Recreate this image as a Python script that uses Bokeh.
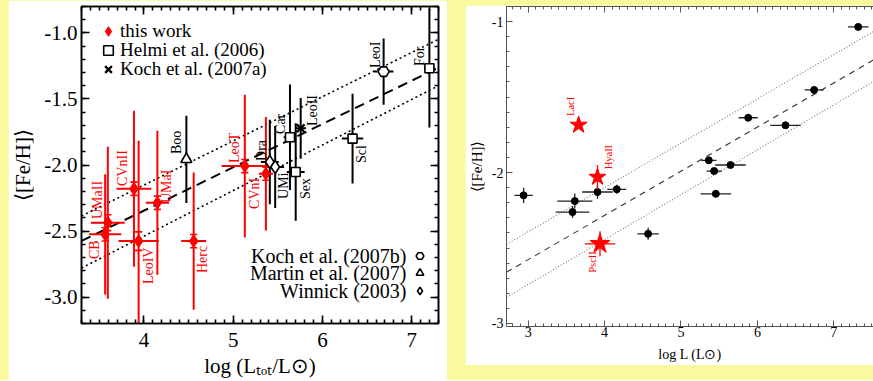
import numpy as np
from bokeh.plotting import figure
from bokeh.models import (ColumnDataSource, Range1d, LinearAxis, FixedTicker,
                          Legend, LegendItem, Label, Spacer)
from bokeh.layouts import row, column
from bokeh.embed import file_html
from bokeh.resources import INLINE
from bokeh.core.properties import value

# ------------------------- DATA: left panel -------------------------
tw_name = ["CB", "UMaII", "CVnII", "LeoIV", "UMaI", "Herc", "LeoT", "CVnI"]
tw_logL = [3.565, 3.595, 3.888, 3.940, 4.150, 4.557, 5.130, 5.366]
tw_feh = [-2.525, -2.437, -2.180, -2.576, -2.286, -2.576, -2.008, -2.066]
tw_xerr = [0.18, 0.19, 0.195, 0.225, 0.13, 0.14, 0.26, 0.08]
tw_yerr = [0.455, 0.575, 0.59, 0.76, 0.545, 0.52, 0.54, 0.43]
tw_yerr_stat = [0.05, 0.06, 0.05, 0.07, 0.05, 0.05, 0.05, 0.05]

lit_name = ["Boo", "Dra", "UMi", "Car", "Sex", "LeoII", "Scl", "LeoI", "For"]
lit_logL = [4.475, 5.41, 5.47, 5.636, 5.70, 5.756, 6.337, 6.685, 7.198]
lit_feh = [-1.957, -1.977, -2.015, -1.79, -2.053, -1.722, -1.80, -1.293, -1.267]
lit_xerr = [0.05, 0.10, 0.10, 0.07, 0.10, 0.06, 0.12, 0.11, 0.06]
lit_yerr = [0.33, 0.32, 0.31, 0.40, 0.37, 0.23, 0.34, 0.25, 0.45]
lit_ref = ["Martin", "Winnick", "Winnick", "Helmi", "Helmi", "Koch07a", "Helmi", "Koch07b", "Helmi"]

fit_logL = [3.3, 7.3]
fit_mid = [-2.575, -1.263]
fit_up = [-2.386, -1.048]
fit_lo = [-2.78, -1.40]

left_xticks = [4, 5, 6, 7]
left_yticks = [-3.0, -2.5, -2.0, -1.5, -1.0]
left_ytick_labels = ["-3.0", "-2.5", "-2.0", "-1.5", "-1.0"]

legend_top = ["this work", "Helmi et al. (2006)", "Koch et al. (2007a)"]
legend_bottom = ["Koch et al. (2007b)", "Martin et al. (2007)", "Winnick (2003)"]

# ------------------------- DATA: right panel -------------------------
dw_logL = [2.94, 3.61, 3.58, 3.907, 4.16, 4.57, 5.364, 5.648, 5.434, 5.456, 5.88, 6.368, 6.743, 7.32]
dw_feh = [-2.151, -2.189, -2.262, -2.129, -2.111, -2.406, -1.919, -1.95, -1.99, -2.141,
          -1.637, -1.687, -1.453, -1.035]
dw_xerr = [0.12, 0.23, 0.22, 0.2, 0.125, 0.14, 0.1, 0.2, 0.1, 0.2, 0.125, 0.2, 0.125, 0.135]
dw_yerr = [0.05, 0.05, 0.04, 0.045, 0.03, 0.04, 0.0, 0.0, 0.0, 0.0, 0.0, 0.0, 0.0, 0.0]

new_name = ["LacI", "HyaII", "PscII"]
new_logL = [3.66, 3.907, 3.94]
new_feh = [-1.685, -2.03, -2.472]
new_xerr = [0.0, 0.0, 0.2]
new_yerr = [0.0, 0.08, 0.083]

fitR_logL = [2.716, 7.52]
fitR_mid = [-2.66, -1.254]
fitR_up = [-2.476, -1.066]
fitR_lo = [-2.826, -1.397]

right_xticks = [3, 4, 5, 6, 7]
right_yticks = [-3, -2, -1]
right_ytick_labels = ["-3", "-2", "-1"]

# ------------------------- STYLE -------------------------
YELLOW = "#f9f99d"
SERIF = "Liberation Serif"
RED = "#ff0000"
CAP_HALF = 0.04   # half-width of statistical-error caps (x units)

# label pixel offsets (style only)
tw_lab_dx = [-11, -10, -11, 9.6, 9, 9.3, -10, -11]
tw_lab_dy = [24.7, -3.7, -2.8, 43, 0.3, 32, -3, 35.2]
lit_lab_dx = [-10, -8.7, 8, -9.8, 10, 12, 9.2, -8.6, -9.8]
lit_lab_dy = [-5.3, -1, 32, -3.3, 27, -2.2, 24.4, -3.7, -2.2]
new_lab_dx = [-8.3, 10.7, -8]
new_lab_dy = [-9, -7.7, 29]


def errbars(p, x, y, xe, ye, color, width):
    x = np.asarray(x, float); y = np.asarray(y, float)
    xe = np.asarray(xe, float); ye = np.asarray(ye, float)
    src = ColumnDataSource(dict(x=x, y=y, x0=x - xe, x1=x + xe, y0=y - ye, y1=y + ye))
    p.segment(x0="x0", y0="y", x1="x1", y1="y", source=src, line_color=color, line_width=width)
    p.segment(x0="x", y0="y0", x1="x", y1="y1", source=src, line_color=color, line_width=width)


def caps(p, x, y, ye, color, width):
    x = np.asarray(x, float); y = np.asarray(y, float); ye = np.asarray(ye, float)
    xs0 = np.concatenate([x - CAP_HALF, x - CAP_HALF])
    xs1 = np.concatenate([x + CAP_HALF, x + CAP_HALF])
    ys = np.concatenate([y - ye, y + ye])
    p.segment(x0=xs0, y0=ys, x1=xs1, y1=ys, line_color=color, line_width=width)


def style_one(ax, axis_color, lw, major_in, minor_in):
    ax.axis_line_color = axis_color
    ax.axis_line_width = lw
    ax.major_tick_line_color = axis_color
    ax.minor_tick_line_color = axis_color
    ax.major_tick_line_width = lw
    ax.minor_tick_line_width = lw
    ax.major_tick_in = major_in
    ax.major_tick_out = 0
    ax.minor_tick_in = minor_in
    ax.minor_tick_out = 0


def style_axes(p, xticks, xminor, yticks, yminor, ylabels, tick_font, axis_color, lw,
               major_in, minor_in, right=True):
    for ax in p.xaxis + p.yaxis:
        style_one(ax, axis_color, lw, major_in, minor_in)
        ax.major_label_text_font = SERIF
        ax.major_label_text_font_size = tick_font
        ax.major_label_text_color = "black"
        ax.axis_label_text_font = SERIF
        ax.axis_label_text_font_style = "normal"
        ax.axis_label_text_color = "black"
    p.xaxis.ticker = FixedTicker(ticks=xticks, minor_ticks=xminor)
    p.yaxis.ticker = FixedTicker(ticks=yticks, minor_ticks=yminor)
    p.yaxis.major_label_overrides = {t: l for t, l in zip(yticks, ylabels)}
    extra = [("above", LinearAxis(ticker=FixedTicker(ticks=xticks, minor_ticks=xminor)))]
    if right:
        extra.append(("right", LinearAxis(ticker=FixedTicker(ticks=yticks, minor_ticks=yminor))))
    for side, ax in extra:
        style_one(ax, axis_color, lw, major_in, minor_in)
        ax.major_label_text_font_size = "1px"
        ax.major_label_text_color = None
        ax.major_label_standoff = 0
        p.add_layout(ax, side)


def single_legend(p, label, renderer, x, y, box, show_text=True, font="19px"):
    leg = Legend(items=[LegendItem(label=label, renderers=[renderer])],
                 location=(x, y), padding=0, spacing=0, margin=0,
                 glyph_width=box, glyph_height=box, label_height=box, label_standoff=0,
                 label_text_font=SERIF, label_text_font_size=font,
                 label_text_color="black" if show_text else None,
                 background_fill_alpha=0, border_line_alpha=0)
    p.add_layout(leg)


# ========================= LEFT PANEL =========================
FW1, FH1 = 357, 317
p1 = figure(frame_width=FW1, frame_height=FH1, x_range=Range1d(3.3, 7.3),
            y_range=Range1d(-3.2, -0.8), output_backend="svg", toolbar_location=None,
            min_border_left=72, min_border_right=9, min_border_top=6, min_border_bottom=52,
            background_fill_color="white", border_fill_color="white",
            outline_line_color="black", outline_line_width=1.5)
p1.grid.visible = False

p1.line(fit_logL, fit_mid, line_color="black", line_width=2, line_dash="10 6")
p1.line(fit_logL, fit_up, line_color="black", line_width=1.6, line_dash="2 3")
p1.line(fit_logL, fit_lo, line_color="black", line_width=1.6, line_dash="2 3")

errbars(p1, lit_logL, lit_feh, lit_xerr, lit_yerr, "black", 2)
errbars(p1, tw_logL, tw_feh, tw_xerr, tw_yerr, RED, 2)
caps(p1, tw_logL, tw_feh, tw_yerr_stat, RED, 1.6)

lit_src = {}
for ref in ["Helmi", "Koch07a", "Koch07b", "Martin", "Winnick"]:
    idx = [i for i, r in enumerate(lit_ref) if r == ref]
    lit_src[ref] = ColumnDataSource(dict(x=[lit_logL[i] for i in idx], y=[lit_feh[i] for i in idx]))

r_helmi = p1.scatter("x", "y", source=lit_src["Helmi"], marker="square", size=9,
                     fill_color="white", line_color="black", line_width=1.6)
r_k07a = p1.scatter("x", "y", source=lit_src["Koch07a"], marker="x", size=11,
                    line_color="black", line_width=2.2)
r_k07b = p1.scatter("x", "y", source=lit_src["Koch07b"], marker="hex", size=11,
                    fill_color="white", line_color="black", line_width=1.6)
r_martin = p1.scatter("x", "y", source=lit_src["Martin"], marker="triangle", size=11,
                      fill_color="white", line_color="black", line_width=1.6)
r_winnick = p1.scatter("x", "y", source=lit_src["Winnick"], marker="diamond", size=13,
                       fill_color="white", line_color="black", line_width=1.6)
tw_src = ColumnDataSource(dict(x=tw_logL, y=tw_feh, name=tw_name, dx=tw_lab_dx, dy=tw_lab_dy))
r_tw = p1.scatter("x", "y", source=tw_src, marker="diamond", size=13,
                  fill_color=RED, line_color=RED)

p1.text(x="x", y="y", text="name", source=tw_src, angle=np.pi / 2, x_offset="dx", y_offset="dy",
        text_align="left", text_baseline="middle", text_font=value(SERIF),
        text_font_size="14px", text_color=RED)
lit_lab_src = ColumnDataSource(dict(x=lit_logL, y=lit_feh, name=lit_name, dx=lit_lab_dx, dy=lit_lab_dy))
p1.text(x="x", y="y", text="name", source=lit_lab_src, angle=np.pi / 2, x_offset="dx",
        y_offset="dy", text_align="left", text_baseline="middle", text_font=value(SERIF),
        text_font_size="14px", text_color="black")

p1.xaxis.axis_label = "log (Lₜₒₜ/L⊙)"
p1.yaxis.axis_label = "⟨[Fe/H]⟩"
style_axes(p1, left_xticks, list(np.round(np.arange(3.3, 7.31, 0.1), 2)),
           left_yticks, list(np.round(np.arange(-3.2, -0.79, 0.1), 2)), left_ytick_labels,
           "21px", "black", 1.6, 8, 4, right=True)
p1.xaxis.axis_label_text_font_size = "21px"
p1.yaxis.axis_label_text_font_size = "21px"
p1.xaxis.major_label_standoff = 9
p1.yaxis.major_label_standoff = 4
p1.xaxis.axis_label_standoff = 4
p1.yaxis.axis_label_standoff = 6

# top-left legend: one small legend per row so that the symbols stay large
BOX = 24
for k, (lab, rend) in enumerate(zip(legend_top, [r_tw, r_helmi, r_k07a])):
    row_center = 25 + 19 * k
    single_legend(p1, lab, rend, 27 - BOX // 2, FH1 - row_center - BOX // 2, BOX)

# bottom-right legend: text first, symbol to its right
BOX2 = 19
for k, (lab, rend) in enumerate(zip(legend_bottom, [r_k07b, r_martin, r_winnick])):
    row_center = 68 - 17.5 * k
    single_legend(p1, " ", rend, FW1 - 19 - BOX2 / 2, row_center - BOX2 / 2, BOX2,
                  show_text=False, font="4px")
    p1.add_layout(Label(x=FW1 - 32, y=row_center, x_units="screen", y_units="screen", text=lab,
                        text_align="right", text_baseline="middle", text_font=SERIF,
                        text_font_size="20px", text_color="black"))

# ========================= RIGHT PANEL =========================
FW2, FH2 = 367, 320
p2 = figure(frame_width=FW2, frame_height=FH2, x_range=Range1d(2.716, 7.52),
            y_range=Range1d(-3.02, -0.9), output_backend="svg", toolbar_location=None,
            min_border_left=41, min_border_right=0, min_border_top=1, min_border_bottom=39,
            background_fill_color="white", border_fill_color="white", outline_line_color=None)
p2.grid.visible = False

p2.line(fitR_logL, fitR_mid, line_color="#333333", line_width=1.1, line_dash="6 5")
p2.line(fitR_logL, fitR_up, line_color="#777777", line_width=1.1, line_dash="1 2")
p2.line(fitR_logL, fitR_lo, line_color="#777777", line_width=1.1, line_dash="1 2")

errbars(p2, dw_logL, dw_feh, dw_xerr, dw_yerr, "#222222", 1.3)
p2.scatter(dw_logL, dw_feh, marker="circle", size=7, fill_color="black", line_color="black")

errbars(p2, new_logL, new_feh, new_xerr, new_yerr, RED, 1.3)
new_src = ColumnDataSource(dict(x=new_logL, y=new_feh, name=new_name, dx=new_lab_dx,
                                dy=new_lab_dy, size=[18, 18, 21]))
p2.scatter("x", "y", source=new_src, marker="star", size="size", fill_color=RED, line_color=RED)
p2.text(x="x", y="y", text="name", source=new_src, angle=np.pi / 2, x_offset="dx", y_offset="dy",
        text_align="left", text_baseline="middle", text_font=value(SERIF),
        text_font_size="10.5px", text_color=RED)

p2.xaxis.axis_label = "log L (L⊙)"
p2.yaxis.axis_label = "⟨[Fe/H]⟩"
style_axes(p2, right_xticks, list(np.round(np.arange(2.8, 7.52, 0.1), 2)),
           right_yticks, list(np.round(np.arange(-3.0, -0.89, 0.1), 2)), right_ytick_labels,
           "14px", "#555555", 1, 6, 3, right=False)
p2.xaxis.axis_label_text_font_size = "14px"
p2.yaxis.axis_label_text_font_size = "15px"
p2.xaxis.major_label_standoff = 0
p2.xaxis.axis_label_standoff = 7
p2.yaxis.axis_label_standoff = 4
p2.yaxis.major_label_standoff = 3

right_col = column(Spacer(width=408, height=5), p2, spacing=0)
layout = row(Spacer(width=8, height=380), p1, Spacer(width=18, height=10), right_col,
             spacing=0, styles={"background-color": YELLOW})
open("out.html", "w").write(file_html(layout, INLINE))
